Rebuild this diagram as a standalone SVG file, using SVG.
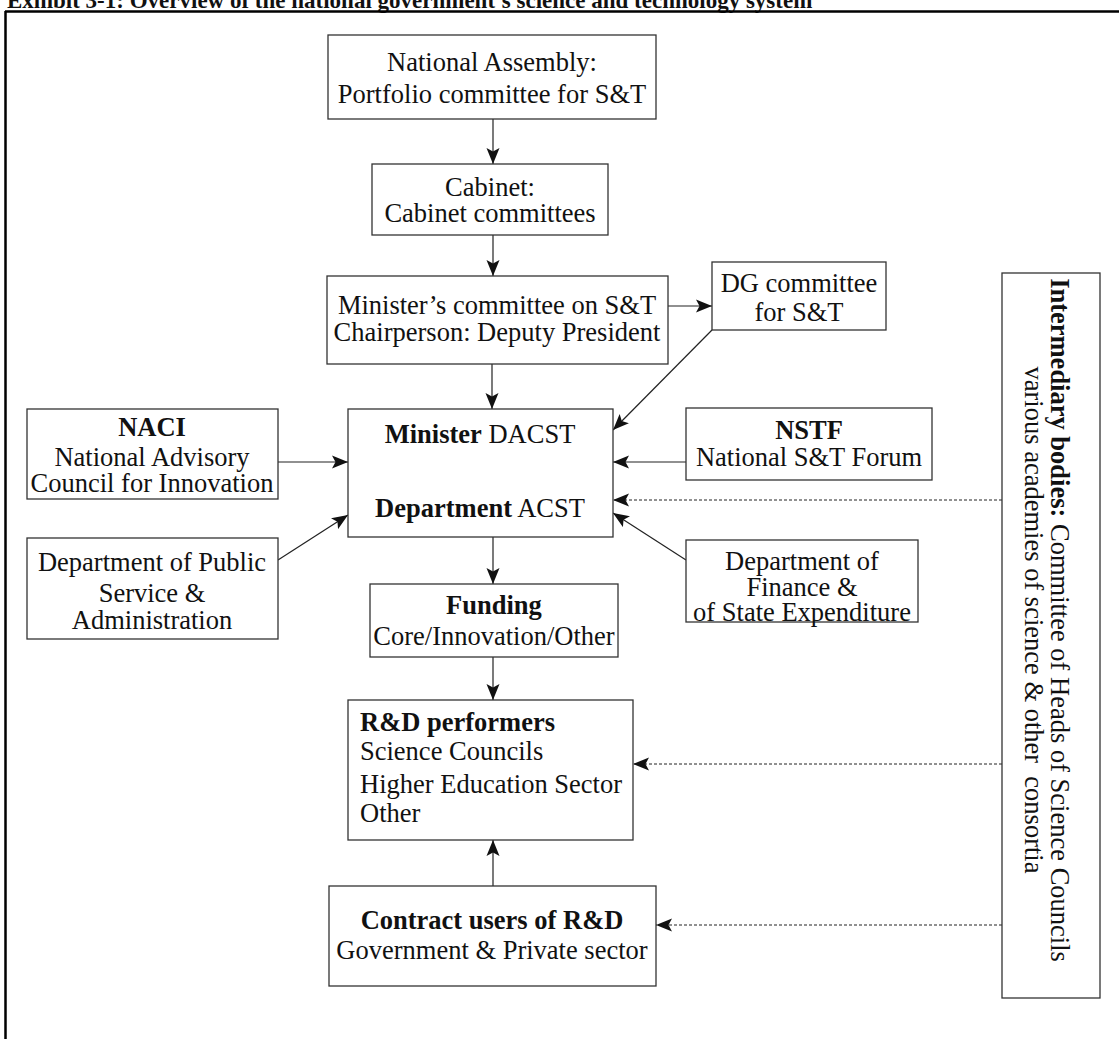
<svg xmlns="http://www.w3.org/2000/svg" width="1119" height="1039" viewBox="0 0 1119 1039">
<style>
text{font-family:"Liberation Serif","Times New Roman",serif;font-size:26.5px;fill:#111}
.c{text-anchor:middle}
.b{font-weight:bold}
.box{fill:#fff;stroke:#333;stroke-width:1.3}
.ln{stroke:#222;stroke-width:1.2;fill:none}
.ds{stroke:#222;stroke-width:1;fill:none;stroke-dasharray:3 2}
</style>
<defs>
<marker id="ah" markerUnits="userSpaceOnUse" markerWidth="18" markerHeight="14" refX="16" refY="7" orient="auto">
<path d="M0,0.5 L16,7 L0,13.5 L3.5,7 z" fill="#111"/>
</marker>
</defs>
<rect width="1119" height="1039" fill="#fff"/>
<text x="7" y="8" style="font-size:23px;font-weight:bold">Exhibit 3-1: Overview of the national government’s science and technology system</text>
<path d="M5,11.5 H1119 M5.5,11 V1039" stroke="#000" stroke-width="2.5" fill="none"/>

<g id="connectors">
<line class="ln" x1="493" y1="119" x2="493" y2="164" marker-end="url(#ah)"/>
<line class="ln" x1="493" y1="235" x2="493" y2="276" marker-end="url(#ah)"/>
<line class="ln" x1="668" y1="306" x2="712" y2="306" marker-end="url(#ah)"/>
<line class="ln" x1="492" y1="364" x2="492" y2="409" marker-end="url(#ah)"/>
<line class="ln" x1="712" y1="330" x2="613" y2="430" marker-end="url(#ah)"/>
<line class="ln" x1="278" y1="462" x2="348" y2="462" marker-end="url(#ah)"/>
<line class="ln" x1="278" y1="560" x2="348" y2="515" marker-end="url(#ah)"/>
<line class="ln" x1="686" y1="462" x2="613" y2="462" marker-end="url(#ah)"/>
<line class="ds" x1="1002" y1="500" x2="613" y2="500" marker-end="url(#ah)"/>
<line class="ln" x1="686" y1="560" x2="613" y2="513" marker-end="url(#ah)"/>
<line class="ln" x1="493" y1="537" x2="493" y2="584" marker-end="url(#ah)"/>
<line class="ln" x1="493" y1="657" x2="493" y2="700" marker-end="url(#ah)"/>
<line class="ln" x1="493" y1="886" x2="493" y2="840" marker-end="url(#ah)"/>
<line class="ds" x1="1002" y1="764" x2="633" y2="764" marker-end="url(#ah)"/>
<line class="ds" x1="1002" y1="925" x2="656" y2="925" marker-end="url(#ah)"/>
</g>

<g id="national-assembly">
<rect class="box" x="328" y="35" width="328" height="84"/>
<text class="c" x="492" y="71">National Assembly:</text>
<text class="c" x="492" y="103">Portfolio committee for S&amp;T</text>
</g>
<g id="cabinet">
<rect class="box" x="372" y="164" width="236" height="71"/>
<text class="c" x="490" y="196">Cabinet:</text>
<text class="c" x="490" y="222">Cabinet committees</text>
</g>
<g id="ministers-committee">
<rect class="box" x="327" y="276" width="341" height="88"/>
<text class="c" x="497" y="314">Minister’s committee on S&amp;T</text>
<text class="c" x="497" y="341">Chairperson: Deputy President</text>
</g>
<g id="dg-committee">
<rect class="box" x="712" y="262" width="174" height="68"/>
<text class="c" x="799" y="292">DG committee</text>
<text class="c" x="799" y="321">for S&amp;T</text>
</g>
<g id="minister">
<rect class="box" x="348" y="409" width="265" height="128"/>
<text class="c" x="480" y="443"><tspan class="b">Minister</tspan> DACST</text>
<text class="c" x="480" y="517"><tspan class="b">Department</tspan> ACST</text>
</g>
<g id="naci">
<rect class="box" x="27" y="409" width="251" height="90"/>
<text class="c b" x="152" y="436">NACI</text>
<text class="c" x="152" y="466">National Advisory</text>
<text class="c" x="152" y="492">Council for Innovation</text>
</g>
<g id="dpsa">
<rect class="box" x="27" y="538" width="251" height="101"/>
<text class="c" x="152" y="571">Department of Public</text>
<text class="c" x="152" y="602">Service &amp;</text>
<text class="c" x="152" y="629">Administration</text>
</g>
<g id="nstf">
<rect class="box" x="686" y="408" width="246" height="72"/>
<text class="c b" x="809" y="439">NSTF</text>
<text class="c" x="809" y="466">National S&amp;T Forum</text>
</g>
<g id="finance">
<rect class="box" x="686" y="540" width="232" height="82"/>
<text class="c" x="802" y="570">Department of</text>
<text class="c" x="802" y="596">Finance &amp;</text>
<text class="c" x="802" y="621">of State Expenditure</text>
</g>
<g id="funding">
<rect class="box" x="370" y="584" width="248" height="73"/>
<text class="c b" x="494" y="614">Funding</text>
<text class="c" x="494" y="645">Core/Innovation/Other</text>
</g>
<g id="rd-performers">
<rect class="box" x="348" y="700" width="285" height="140"/>
<text class="b" x="360" y="731">R&amp;D performers</text>
<text x="360" y="760">Science Councils</text>
<text x="360" y="793">Higher Education Sector</text>
<text x="360" y="822">Other</text>
</g>
<g id="contract-users">
<rect class="box" x="329" y="886" width="327" height="100"/>
<text class="c b" x="492" y="929">Contract users of R&amp;D</text>
<text class="c" x="492" y="959">Government &amp; Private sector</text>
</g>
<g id="intermediary">
<rect class="box" x="1002" y="273" width="98" height="725"/>
<text class="c" transform="translate(1051,620) rotate(90)"><tspan class="b">Intermediary bodies:</tspan> Committee of Heads of Science Councils</text>
<text class="c" transform="translate(1025,620) rotate(90)" style="white-space:pre">various academies of science &amp; other  consortia</text>
</g>
</svg>
